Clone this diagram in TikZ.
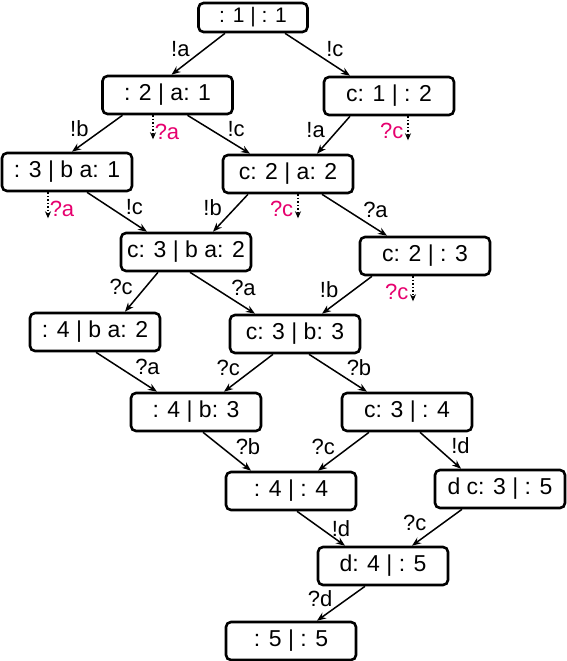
\documentclass[tikz,border=0pt]{standalone}
\usepackage{fontspec}
\setmainfont{Liberation Sans}
\usetikzlibrary{positioning, arrows.meta}
\definecolor{refusered}{RGB}{230,0,110}

\begin{document}
\begin{tikzpicture}[
    x=1pt, y=-1pt,
    state/.style={rectangle, rounded corners=5pt, draw=black, line width=2.6pt, fill=white, minimum width=130pt, minimum height=38pt, inner sep=0pt, text centered, font=\fontsize{23}{27}\selectfont},
    topstate/.style={state, minimum width=109pt, minimum height=29pt, font=\fontsize{21}{25}\selectfont},
    arrow/.style={line width=1.5pt, -{Stealth[length=9pt, width=7pt]}},
    probe/.style={line width=1.5pt, dotted, -{Stealth[length=7pt, width=6pt]}},
    lbl/.style={font=\fontsize{22}{26}\selectfont, inner sep=1pt, yshift=5pt},
    refusal/.style={font=\fontsize{22}{26}\selectfont, text=refusered, inner sep=1pt},
]
\useasboundingbox (0,0) rectangle (567,661);

% Nodes
\node[topstate] (s1) at (253,17.5) {: 1 | : 1};
\node[state] (s2) at (167.5,95) {: 2 | a: 1};
\node[state] (s3) at (389,96) {c: 1 | : 2};
\node[state] (s4) at (67,172) {: 3 | b a: 1};
\node[state] (s5) at (288,174) {c: 2 | a: 2};
\node[state] (s6) at (186,252) {c: 3 | b a: 2};
\node[state] (s7) at (425,256) {c: 2 | : 3};
\node[state] (s8) at (95,332) {: 4 | b a: 2};
\node[state] (s9) at (295,334) {c: 3 | b: 3};
\node[state] (s10) at (196,412) {: 4 | b: 3};
\node[state] (s11) at (407,412) {c: 3 | : 4};
\node[state] (s12) at (291,491) {: 4 | : 4};
\node[state] (s13) at (500,489) {d c: 3 | : 5};
\node[state] (s14) at (383,566) {d: 4 | : 5};
\node[state] (s15) at (291,641) {: 5 | : 5};

% Connections
\draw[arrow] ([xshift=-28pt]s1.south) -- node[lbl, left=7pt] {!a} ([xshift=4pt]s2.north);
\draw[arrow] ([xshift=32pt]s1.south) -- node[lbl, right=7pt] {!c} ([xshift=-39pt]s3.north);
\draw[arrow] ([xshift=-45pt]s2.south) -- node[lbl, left=7pt] {!b} ([xshift=5pt]s4.north);
\draw[arrow] ([xshift=20pt]s2.south) -- node[lbl, right=7pt] {!c} ([xshift=-38pt]s5.north);
\draw[arrow] ([xshift=-39pt]s3.south) -- node[lbl, left=7pt] {!a} ([xshift=29pt]s5.north);
\draw[arrow] ([xshift=20pt]s4.south) -- node[lbl, right=7pt] {!c} ([xshift=-39pt]s6.north);
\draw[arrow] ([xshift=-40pt]s5.south) -- node[lbl, left=7pt] {!b} ([xshift=27pt]s6.north);
\draw[arrow] ([xshift=34pt]s5.south) -- node[lbl, right=7pt] {?a} ([xshift=-38pt]s7.north);
\draw[arrow] ([xshift=-28pt]s6.south) -- node[lbl, left=7pt] {?c} ([xshift=30pt]s8.north);
\draw[arrow] ([xshift=4pt]s6.south) -- node[lbl, right=7pt] {?a} ([xshift=-40pt]s9.north);
\draw[arrow] ([xshift=-53pt]s7.south) -- node[lbl, left=7pt] {!b} ([xshift=27pt]s9.north);
\draw[arrow] ([xshift=1pt]s8.south) -- node[lbl, right=7pt] {?a} ([xshift=-39pt]s10.north);
\draw[arrow] ([xshift=-22pt]s9.south) -- node[lbl, left=7pt] {?c} ([xshift=28pt]s10.north);
\draw[arrow] ([xshift=14pt]s9.south) -- node[lbl, right=7pt] {?b} ([xshift=-40pt]s11.north);
\draw[arrow] ([xshift=7pt]s10.south) -- node[lbl, right=7pt] {?b} ([xshift=-40pt]s12.north);
\draw[arrow] ([xshift=-38pt]s11.south) -- node[lbl, left=7pt] {?c} ([xshift=27pt]s12.north);
\draw[arrow] ([xshift=13pt]s11.south) -- node[lbl, right=9pt] {!d} ([xshift=-39pt]s13.north);
\draw[arrow] ([xshift=6pt]s12.south) -- node[lbl, right=9pt, yshift=-5pt] {!d} ([xshift=-38pt]s14.north);
\draw[arrow] ([xshift=-38pt]s13.south) -- node[lbl, left=9pt] {?c} ([xshift=29pt]s14.north);
\draw[arrow] ([xshift=-18pt]s14.south) -- node[lbl, left=7pt] {?d} ([xshift=26pt]s15.north);

% Refused receives
\draw[probe] ([xshift=-14.5pt]s2.south) -- ++(0,24) node[refusal, anchor=west, yshift=7pt] (r2) {?a};
\draw[probe] ([xshift=19pt]s3.south) -- ++(0,24) node[refusal, anchor=east, xshift=-3pt, yshift=9pt] (r3) {?c};
\draw[probe] ([xshift=-19pt]s4.south) -- ++(0,26) node[refusal, anchor=west, yshift=9pt] (r4) {?a};
\draw[probe] ([xshift=10pt]s5.south) -- ++(0,24) node[refusal, anchor=east, xshift=-3pt, yshift=9pt] (r5) {?c};
\draw[probe] ([xshift=-12pt]s7.south) -- ++(0,25) node[refusal, anchor=east, xshift=-3pt, yshift=9pt] (r7) {?c};

\end{tikzpicture}
\end{document}
